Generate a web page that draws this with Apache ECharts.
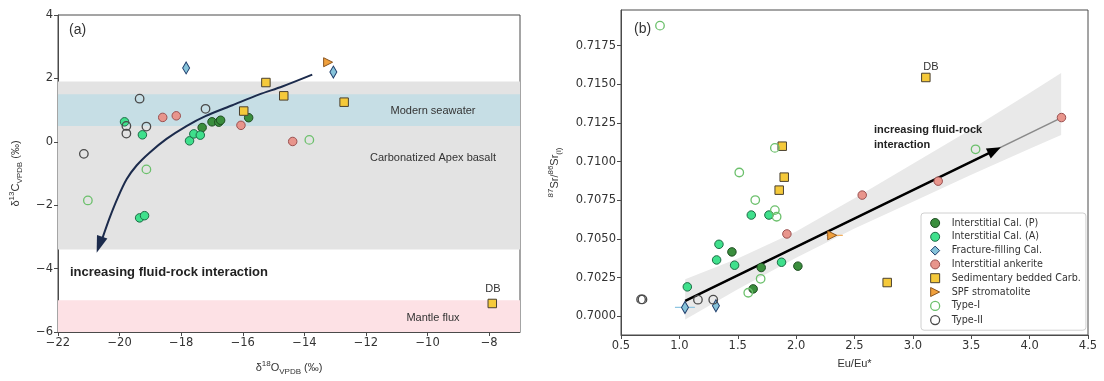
<!DOCTYPE html>
<html>
<head>
<meta charset="utf-8">
<script src="https://cdn.jsdelivr.net/npm/echarts@6/dist/echarts.min.js"></script>
<style>
  html, body { margin: 0; padding: 0; background: #fff; }
  #chart { width: 1104px; height: 381px; }
</style>
</head>
<body>
<div id="chart"></div>
<script>
// ---- panel (a): d18O (x) vs d13C (y)
const calP_a = [[-17.32, 0.45], [-17.0, 0.63], [-16.78, 0.62], [-16.72, 0.68], [-15.81, 0.76]]
const calA_a = [[-19.84, 0.63], [-19.26, 0.22], [-17.73, 0.03], [-17.59, 0.25], [-17.38, 0.21], [-19.35, -2.4], [-19.19, -2.33]]
const fracture_a = [[-17.84, 2.33], [-13.06, 2.2]]
const ankerite_a = [[-18.6, 0.77], [-18.16, 0.82], [-16.06, 0.52], [-14.38, 0.01]]
const sed_a = [[-15.25, 1.87], [-14.67, 1.45], [-12.71, 1.25], [-15.97, 0.97], [-7.9, -5.1]]
const spf_a = [[-13.23, 2.51]]
const typeI_a = [[-19.13, -0.87], [-13.84, 0.06], [-21.03, -1.85]]
const typeII_a = [[-19.35, 1.36], [-17.21, 1.04], [-19.78, 0.5], [-19.78, 0.26], [-19.13, 0.48], [-21.16, -0.38]]

// shaded ranges (d13C)
const bandApex = [1.9, -3.4]
const bandSeawater = [1.5, 0.5]
const bandMantle = [-5, -6]

// curved arrow path + head
const curveA = [[-13.745, 2.118], [-14.717, 1.745], [-15.463, 1.495], [-16.338, 1.153], [-17.213, 0.81], [-17.829, 0.498],
  [-18.477, 0.093], [-19.028, -0.343], [-19.449, -0.748], [-19.773, -1.184], [-20.065, -1.776], [-20.324, -2.399], [-20.551, -3.022]]
const curveHeadA = [[-20.655, -3.25]]

const xTicksA = [-22, -20, -18, -16, -14, -12, -10, -8]

// ---- panel (b): Eu/Eu* (x) vs 87Sr/86Sr(i) (y)
const calP_b = [[1.45, 0.70417], [1.701, 0.70316], [2.015, 0.70325], [1.632, 0.70178]]
const calA_b = [[1.616, 0.70655], [1.767, 0.70655], [1.339, 0.70466], [1.319, 0.70365], [1.473, 0.70331], [1.875, 0.7035], [1.068, 0.70191]]
const fracture_b = [[1.048, 0.70058], [1.313, 0.70069]]
const ankerite_b = [[1.921, 0.70533], [2.566, 0.70784], [3.217, 0.70874], [4.273, 0.71285]]
const sed_b = [[1.881, 0.711], [1.898, 0.709], [1.855, 0.70816], [2.78, 0.70219], [3.111, 0.71544]]
const spf_b = [[2.309, 0.70524]]
const typeI_b = [[0.834, 0.71879], [1.818, 0.71089], [1.513, 0.7093], [1.65, 0.70752], [1.818, 0.70687], [1.833, 0.70644],
  [1.696, 0.70243], [1.59, 0.70153], [3.537, 0.7108]]
const typeII_b = [[0.672, 0.7011], [0.684, 0.7011], [1.159, 0.70108], [1.29, 0.70108]]

// horizontal error bars
const errFracture_b = [[0.962, 0.70058], [1.133, 0.70058]]
const errSpf_b = [[2.26, 0.70524], [2.4, 0.70524]]

// regression line, arrow and confidence band
const regLine = [[1.05, 0.701], [4.27, 0.71283]]
const regArrow = [[1.05, 0.701], [3.7, 0.71073]]
const bandX = [1.05, 1.5, 2.0, 2.5, 3.0, 3.5, 4.0, 4.27]
const bandHigh = [0.7024, 0.70375, 0.70549, 0.70763, 0.70986, 0.7121, 0.71444, 0.71573]
const bandLow = [0.6998, 0.70175, 0.70379, 0.70568, 0.70741, 0.70915, 0.71084, 0.71173]

const xTicksB = [0.5, 1.0, 1.5, 2.0, 2.5, 3.0, 3.5, 4.0, 4.5]
const yTicksB = [0.7, 0.7025, 0.705, 0.7075, 0.71, 0.7125, 0.715, 0.7175]

const names = ['Interstitial Cal. (P)', 'Interstitial Cal. (A)', 'Fracture-filling Cal.', 'Interstitial ankerite',
  'Sedimentary bedded Carb.', 'SPF stromatolite', 'Type-I', 'Type-II']

const triRight = 'path://M0,0 L10,5 L0,10 Z'
const styles = [
  { symbol: 'circle', size: 8.5, color: '#3a8e3d', border: '#1f4d22', bw: 1 },
  { symbol: 'circle', size: 8.5, color: '#3fe08c', border: '#1d6b45', bw: 1 },
  { symbol: 'diamond', size: [7, 12], color: '#86c3da', border: '#1f3d6b', bw: 1 },
  { symbol: 'circle', size: 8.5, color: '#e8958c', border: '#9a5050', bw: 1 },
  { symbol: 'rect', size: 8.5, color: '#f5c93a', border: '#4a4030', bw: 1 },
  { symbol: triRight, size: [9, 9], color: '#f0a03c', border: '#8a5520', bw: 1 },
  { symbol: 'circle', size: 8.5, color: 'rgba(0,0,0,0)', border: '#6cc06c', bw: 1.3 },
  { symbol: 'circle', size: 8.5, color: 'rgba(0,0,0,0)', border: '#4a4a4a', bw: 1.3 }
]

const dataA = [calP_a, calA_a, fracture_a, ankerite_a, sed_a, spf_a, typeI_a, typeII_a]
const dataB = [calP_b, calA_b, fracture_b, ankerite_b, sed_b, spf_b, typeI_b, typeII_b]

const tickFont = 'DejaVu Sans'
const textFont = 'Liberation Sans'
const axisColor = '#4a4a4a'
const minus = (v) => String(v).replace('-', '\u2212')

const chart = echarts.init(document.getElementById('chart'), null, { renderer: 'canvas' })

const scatter = (i, data, gi) => ({
  name: names[i],
  type: 'scatter',
  xAxisIndex: gi,
  yAxisIndex: gi,
  data: data,
  symbol: styles[i].symbol,
  symbolSize: styles[i].size,
  itemStyle: { color: styles[i].color, borderColor: styles[i].border, borderWidth: styles[i].bw, opacity: 1 },
  emphasis: { disabled: true },
  z: 5
})

const axisCommon = {
  axisLine: { show: true, onZero: false, lineStyle: { color: axisColor, width: 1 } },
  axisTick: { show: true, length: 4, lineStyle: { color: axisColor } },
  axisLabel: { color: '#333', fontFamily: tickFont, fontSize: 11.5, margin: 5 },
  splitLine: { show: false },
  nameTextStyle: { color: '#333', fontFamily: textFont, fontSize: 11 }
}

const nameRich = {
  n: { fontFamily: textFont, fontSize: 11, color: '#333', lineHeight: 16 },
  sup: { fontFamily: textFont, fontSize: 8, color: '#333', lineHeight: 9, verticalAlign: 'top' },
  sub: { fontFamily: textFont, fontSize: 8, color: '#333', lineHeight: 9, verticalAlign: 'bottom' }
}

const series = []
dataA.forEach((d, i) => series.push(scatter(i, d, 0)))
dataB.forEach((d, i) => series.push(scatter(i, d, 1)))

// bands in (a)
series.push({
  type: 'line',
  xAxisIndex: 0,
  yAxisIndex: 0,
  data: [],
  silent: true,
  markArea: {
    silent: true,
    label: { show: false },
    data: [
      [{ yAxis: bandApex[0], itemStyle: { color: '#e3e3e3' } }, { yAxis: bandApex[1] }],
      [{ yAxis: bandSeawater[0], itemStyle: { color: '#c6dee5' } }, { yAxis: bandSeawater[1] }],
      [{ yAxis: bandMantle[0], itemStyle: { color: '#fde1e5' } }, { yAxis: bandMantle[1] }]
    ]
  },
  z: 1
})

// curved arrow in (a)
series.push({
  type: 'line',
  xAxisIndex: 0,
  yAxisIndex: 0,
  data: curveA,
  smooth: 0.3,
  symbol: 'none',
  silent: true,
  lineStyle: { color: '#1c2b4c', width: 2 },
  z: 4
})
series.push({
  type: 'scatter',
  xAxisIndex: 0,
  yAxisIndex: 0,
  data: curveHeadA,
  symbol: 'triangle',
  symbolSize: [11, 17],
  symbolRotate: 161,
  silent: true,
  itemStyle: { color: '#1c2b4c', opacity: 1 },
  z: 4
})

// confidence band in (b)
series.push({
  type: 'custom',
  xAxisIndex: 1,
  yAxisIndex: 1,
  data: [[bandX[0], bandLow[0]]],
  silent: true,
  renderItem: (params, api) => {
    const pts = []
    bandX.forEach((x, k) => pts.push(api.coord([x, bandHigh[k]])))
    for (let k = bandX.length - 1; k >= 0; k--) pts.push(api.coord([bandX[k], bandLow[k]]))
    return { type: 'polygon', shape: { points: pts }, style: { fill: '#e9e9e9' } }
  },
  z: 1
})

// regression line + arrow in (b)
series.push({
  type: 'line',
  xAxisIndex: 1,
  yAxisIndex: 1,
  data: regLine,
  symbol: 'none',
  silent: true,
  lineStyle: { color: '#8a8a8a', width: 1.6 },
  markLine: {
    silent: true,
    symbol: ['none', 'triangle'],
    symbolSize: [11, 14],
    label: { show: false },
    lineStyle: { color: '#000', width: 2.4, type: 'solid' },
    data: [[{ coord: regArrow[0] }, { coord: regArrow[1] }]]
  },
  z: 3
})

// error bars in (b)
series.push({
  type: 'line', xAxisIndex: 1, yAxisIndex: 1, data: errFracture_b, symbol: 'none', silent: true,
  lineStyle: { color: '#8fc6e2', width: 1.3 }, z: 4
})
series.push({
  type: 'line', xAxisIndex: 1, yAxisIndex: 1, data: errSpf_b, symbol: 'none', silent: true,
  lineStyle: { color: '#f2b060', width: 1.3 }, z: 4
})

const textStyle = (extra) => Object.assign({ fill: '#333', fontFamily: textFont, fontSize: 11 }, extra)
const label = (x, y, style) => ({ type: 'text', x: x, y: y, z: 100, silent: true, style: textStyle(style) })

const option = {
  animation: false,
  backgroundColor: '#fff',
  grid: [
    { left: 58, top: 15, width: 462, height: 321, show: true, borderColor: axisColor, borderWidth: 1 },
    { left: 621, top: 10, width: 467, height: 325, show: true, borderColor: axisColor, borderWidth: 1 }
  ],
  xAxis: [
    Object.assign({}, axisCommon, {
      gridIndex: 0, type: 'value', min: -22, max: -7,
      axisLabel: Object.assign({}, axisCommon.axisLabel, { customValues: xTicksA, formatter: minus }),
      axisTick: Object.assign({}, axisCommon.axisTick, { customValues: xTicksA }),
      name: '{n|δ}{sup|18}{n|O}{sub|VPDB}{n| (‰)}',
      nameLocation: 'middle', nameGap: 28,
      nameTextStyle: { rich: nameRich }
    }),
    Object.assign({}, axisCommon, {
      gridIndex: 1, type: 'value', min: 0.5, max: 4.5,
      axisLabel: Object.assign({}, axisCommon.axisLabel, { customValues: xTicksB, formatter: (v) => v.toFixed(1) }),
      axisTick: Object.assign({}, axisCommon.axisTick, { customValues: xTicksB }),
      name: 'Eu/Eu*',
      nameLocation: 'middle', nameGap: 23,
      nameTextStyle: { color: '#333', fontFamily: textFont, fontSize: 11 }
    })
  ],
  yAxis: [
    Object.assign({}, axisCommon, {
      gridIndex: 0, type: 'value', min: -6, max: 4, interval: 2,
      axisLabel: Object.assign({}, axisCommon.axisLabel, { formatter: minus }),
      name: '{n|δ}{sup|13}{n|C}{sub|VPDB}{n| (‰)}',
      nameLocation: 'middle', nameGap: 34, nameRotate: 90,
      nameTextStyle: { rich: nameRich }
    }),
    Object.assign({}, axisCommon, {
      gridIndex: 1, type: 'value', min: 0.6988, max: 0.7198,
      axisLabel: Object.assign({}, axisCommon.axisLabel, { customValues: yTicksB, formatter: (v) => v.toFixed(4) }),
      axisTick: Object.assign({}, axisCommon.axisTick, { customValues: yTicksB }),
      name: '{sup|87}{n|Sr/}{sup|86}{n|Sr}{sub|(i)}',
      nameLocation: 'middle', nameGap: 58, nameRotate: 90,
      nameTextStyle: { rich: nameRich }
    })
  ],
  legend: {
    orient: 'vertical',
    left: 921,
    top: 213,
    padding: [5, 5, 5, 9],
    itemWidth: 9,
    itemHeight: 9,
    itemGap: 3.8,
    borderColor: '#d0d0d0',
    borderWidth: 1,
    borderRadius: 3,
    backgroundColor: 'rgba(255,255,255,0.85)',
    selectedMode: false,
    textStyle: { color: '#333', fontFamily: tickFont, fontSize: 9.6, lineHeight: 10, padding: [0, 0, 0, 7] },
    data: names.map((n, i) => ({
      name: n,
      icon: styles[i].symbol,
      itemStyle: { color: styles[i].color, borderColor: styles[i].border, borderWidth: styles[i].bw }
    }))
  },
  graphic: [
    label(69, 30, { text: '(a)', fontSize: 14, verticalAlign: 'middle' }),
    label(634, 29, { text: '(b)', fontSize: 14, verticalAlign: 'middle' }),
    label(433, 111, { text: 'Modern seawater', align: 'center', verticalAlign: 'middle' }),
    label(433, 158, { text: 'Carbonatized Apex basalt', align: 'center', verticalAlign: 'middle' }),
    label(433, 318, { text: 'Mantle flux', align: 'center', verticalAlign: 'middle' }),
    label(493, 289, { text: 'DB', align: 'center', verticalAlign: 'middle' }),
    label(931, 67, { text: 'DB', align: 'center', verticalAlign: 'middle' }),
    label(70, 272, { text: 'increasing fluid-rock interaction', fontSize: 13, fontWeight: 'bold', fill: '#222', verticalAlign: 'middle' }),
    label(874, 122, { text: 'increasing fluid-rock\ninteraction', fontSize: 11, fontWeight: 'bold', fill: '#222', lineHeight: 15 })
  ],
  series: series
}

chart.setOption(option)
window.addEventListener('resize', function () {
  chart.resize()
})
</script>
</body>
</html>
